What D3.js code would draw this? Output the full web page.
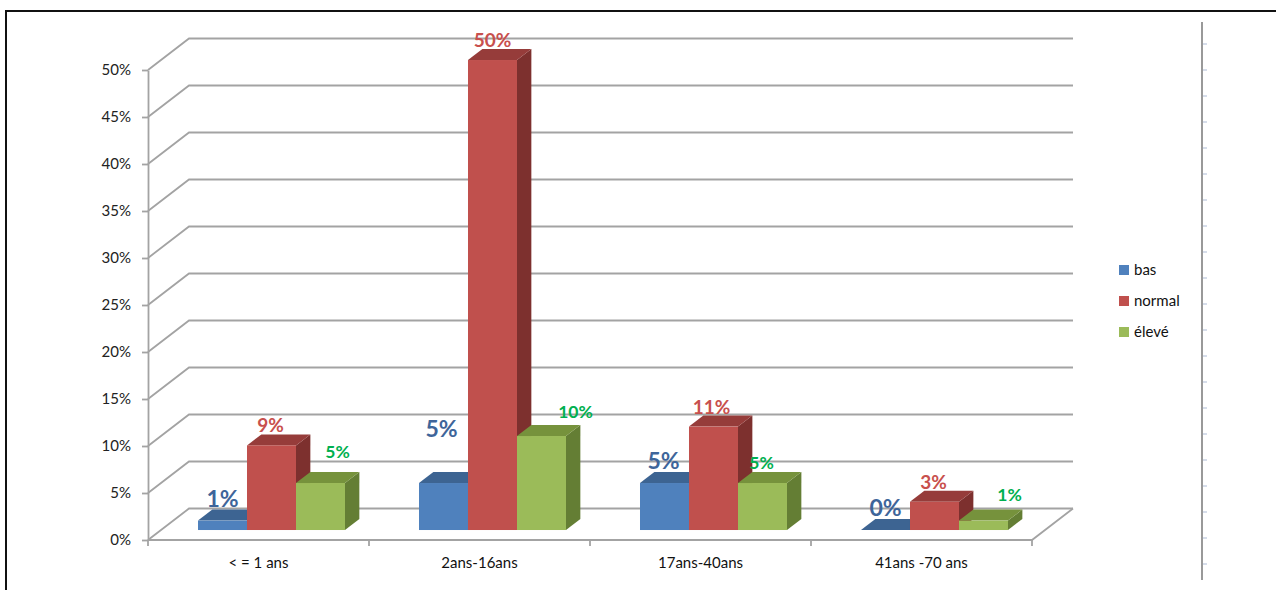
<!DOCTYPE html>
<html>
<head>
<meta charset="utf-8">
<script src="https://cdn.jsdelivr.net/npm/d3@7"></script>
<style>
  body { margin: 0; background: #fff; }
  text { font-family: Lato, "Open Sans", sans-serif; }
</style>
</head>
<body>
<script>
var width = 1276,
    height = 590;

// data (percent)
var categories = ["< = 1 ans", "2ans-16ans", "17ans-40ans", "41ans -70 ans"];
var series = ["bas", "normal", "élevé"];
var bas = [1, 5, 5, 0];
var normal = [9, 50, 11, 3];
var eleve = [5, 10, 5, 1];
var yTicks = [0, 5, 10, 15, 20, 25, 30, 35, 40, 45, 50];

var values = [bas, normal, eleve];

// look
var front = ["#4F81BD", "#C0504D", "#9BBB59"],
    top_ = ["#3D6492", "#963C3A", "#76923C"],
    side = ["#385D8A", "#7D302E", "#647E34"],
    labelColor = ["#3E659A", "#C8504D", "#00B050"],
    labelSize = [23, 19, 17.5];

// hand-placed label nudges (dx, dy) from Excel
var labelNudge = [
  [[0, -3], [-1, -2], [17, -14]],
  [[-2, -35], [0, -2], [34, -7]],
  [[-1, -3], [-2, -2], [-1, -3]],
  [[0, -3], [-1, -2], [26, -9]]
];

var svg = d3.select("body").append("svg")
    .attr("width", width)
    .attr("height", height);

// frame
svg.append("rect")
    .attr("x", 6).attr("y", 11)
    .attr("width", 1300).attr("height", 600)
    .attr("fill", "none").attr("stroke", "#111").attr("stroke-width", 2);

var x = d3.scaleBand().domain(categories).range([148, 1032]);
var inner = d3.scaleBand().domain(series).range([37, 184]);
var y = d3.scaleLinear().domain([0, 50]).range([540, 70]);

var depth = { dx: 41, dy: 31.5 },
    d0 = 0.317, d1 = 0.667;

function px(xv, d) { return xv + d * depth.dx; }
function py(v, d) { return y(v) - d * depth.dy; }

var grid = svg.append("g").attr("stroke", "#a3a3a3").attr("stroke-width", 1.8).attr("fill", "none");

// back wall + side wall lines
yTicks.forEach(function (t) {
  grid.append("path")
    .attr("d", "M" + x.range()[0] + "," + y(t) +
               "L" + px(x.range()[0], 1) + "," + py(t, 1) +
               "L" + px(x.range()[1], 1) + "," + py(t, 1));
});

// floor front edge + right edge
grid.append("path")
  .attr("d", "M" + x.range()[0] + "," + y(0) + "L" + x.range()[1] + "," + y(0) +
             "L" + px(x.range()[1], 1) + "," + py(0, 1));

// category boundary ticks
var bounds = categories.map(function (c) { return x(c); }).concat([x.range()[1]]);
grid.selectAll("line.ct").data(bounds).enter().append("line")
  .attr("x1", function (d) { return d; }).attr("x2", function (d) { return d; })
  .attr("y1", y(0)).attr("y2", y(0) + 6);

// y axis
var yAxis = svg.append("g")
  .attr("transform", "translate(" + x.range()[0] + ",0)")
  .call(d3.axisLeft(y).tickValues(yTicks).tickFormat(function (d) { return d + "%"; })
        .tickSize(6).tickSizeOuter(0).tickPadding(11));
yAxis.select(".domain").attr("stroke", "#a3a3a3").attr("stroke-width", 1.8);
yAxis.selectAll(".tick line").attr("stroke", "#a3a3a3").attr("stroke-width", 1.8);
yAxis.selectAll(".tick text")
  .attr("font-size", 15).attr("fill", "#222")
  .style("font-family", "Lato, 'Open Sans', sans-serif");

// bars
var bars = svg.append("g");
categories.forEach(function (c, ci) {
  series.forEach(function (s, si) {
    var v = values[si][ci];
    var x0 = x(c) + inner(s), x1 = x0 + inner.bandwidth();
    var pt = function (xv, vv, d) { return [px(xv, d), py(vv, d)]; };
    var g = bars.append("g");
    // side
    g.append("polygon")
      .attr("points", [pt(x1, 0, d0), pt(x1, v, d0), pt(x1, v, d1), pt(x1, 0, d1)].join(" "))
      .attr("fill", side[si]);
    // top
    g.append("polygon")
      .attr("points", [pt(x0, v, d0), pt(x1, v, d0), pt(x1, v, d1), pt(x0, v, d1)].join(" "))
      .attr("fill", top_[si]);
    // front
    g.append("rect")
      .attr("x", px(x0, d0)).attr("y", py(v, d0))
      .attr("width", x1 - x0).attr("height", py(0, d0) - py(v, d0))
      .attr("fill", front[si]);
  });
});

// value labels
var labels = svg.append("g");
categories.forEach(function (c, ci) {
  series.forEach(function (s, si) {
    var v = values[si][ci];
    var x0 = x(c) + inner(s);
    var nudge = labelNudge[ci][si];
    labels.append("text")
      .attr("x", px(x0 + inner.bandwidth() / 2, d0) + nudge[0])
      .attr("y", py(v, d1) + nudge[1])
      .attr("text-anchor", "middle")
      .attr("font-size", labelSize[si])
      .attr("font-weight", "bold")
      .attr("fill", labelColor[si])
      .text(v + "%");
  });
});

// x labels
svg.append("g").selectAll("text").data(categories).enter().append("text")
  .attr("x", function (d) { return x(d) + x.bandwidth() / 2; })
  .attr("y", 568)
  .attr("text-anchor", "middle")
  .attr("font-size", 15)
  .attr("fill", "#111")
  .text(function (d) { return d; });

// legend
var legend = svg.append("g").attr("transform", "translate(1119,270)");
series.forEach(function (s, i) {
  legend.append("rect")
    .attr("x", 0).attr("y", i * 31 - 5)
    .attr("width", 10).attr("height", 10)
    .attr("fill", front[i]);
  legend.append("text")
    .attr("x", 15).attr("y", i * 31 + 5)
    .attr("font-size", 15).attr("fill", "#111")
    .text(s);
});

// right side vertical rule with faint ticks
svg.append("line")
  .attr("x1", 1202).attr("x2", 1202).attr("y1", 22).attr("y2", 580)
  .attr("stroke", "#999").attr("stroke-width", 2);
svg.append("g").selectAll("line").data(d3.range(44, 580, 26)).enter().append("line")
  .attr("x1", 1203).attr("x2", 1207)
  .attr("y1", function (d) { return d; }).attr("y2", function (d) { return d; })
  .attr("stroke", "#c9d2e3").attr("stroke-width", 1.5);
</script>
</body>
</html>
